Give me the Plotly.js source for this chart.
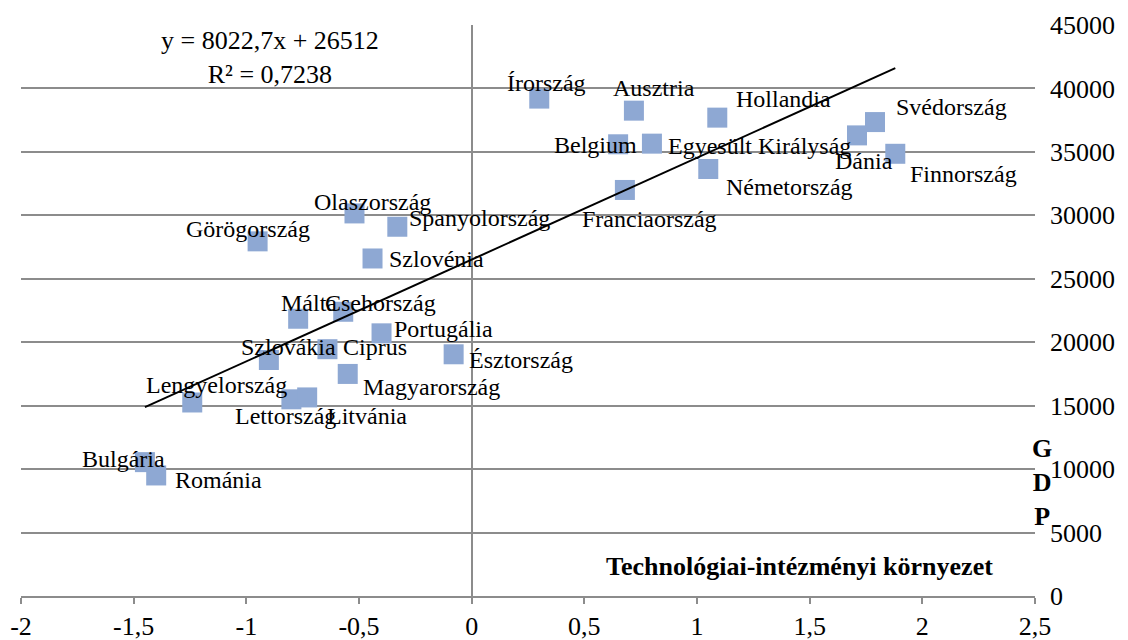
<!DOCTYPE html>
<html>
<head>
<meta charset="utf-8">
<script src="https://cdn.plot.ly/plotly-3.0.1.min.js"></script>
<style>
html,body{margin:0;padding:0;background:#fff;}
#chart{width:1128px;height:640px;}
</style>
</head>
<body>
<div id="chart"></div>
<script>
// ---- data ----
const countries = ["Írország","Ausztria","Hollandia","Svédország","Belgium","Egyesült Királyság","Dánia","Finnország","Németország","Franciaország","Olaszország","Spanyolország","Görögország","Szlovénia","Málta","Csehország","Portugália","Szlovákia","Ciprus","Észtország","Magyarország","Lengyelország","Lettország","Litvánia","Bulgária","Románia"];
const techEnv = [0.30,0.72,1.09,1.79,0.65,0.80,1.71,1.88,1.05,0.68,-0.52,-0.33,-0.95,-0.44,-0.77,-0.57,-0.40,-0.90,-0.64,-0.08,-0.55,-1.24,-0.80,-0.73,-1.45,-1.40];
const gdp = [39200,38250,37700,37350,35600,35650,36300,34850,33650,32000,30150,29100,27950,26600,21850,22400,20700,18600,19450,19050,17500,15250,15500,15650,10550,9500];
const trendSlope = 8022.7;
const trendIntercept = 26512;
const equationText = "y = 8022,7x + 26512<br>R² = 0,7238";
const xTickVals = [-2,-1.5,-1,-0.5,0,0.5,1,1.5,2,2.5];
const xTickLabels = ["-2","-1,5","-1","-0,5","0","0,5","1","1,5","2","2,5"];
const xTitle = "Technológiai-intézményi környezet";
const yTitleLetters = ["G","D","P"];

// ---- label placement (style only) ----
const labelPlacement = [
  ["center",7,-16],["center",20,-23],["left",18,-19],["left",20,-15],["right",20,1],
  ["left",15,2],["center",7,26],["left",14,20],["left",17,18],["center",25,29],
  ["center",18,-11],["left",11,-9],["center",-10,-12],["left",15,1],["center",11,-16],
  ["center",37,-9],["left",11,-4],["center",20,-13],["left",15,-2],["left",14,6],
  ["left",14,13],["center",24,-17],["center",-6,17],["left",19,19],["center",-21,-3],
  ["left",18,5]
];

const FONT = "Liberation Serif";
const GRID = "#8c8c8c";

const xMin = Math.min(...techEnv), xMax = Math.max(...techEnv);
const trendX = [xMin, xMax];
const trendY = trendX.map(v => trendSlope * v + trendIntercept);

const traces = [
  {
    type: "scatter", mode: "markers", x: techEnv, y: gdp, text: countries,
    marker: {symbol: "square", size: 20, color: "#8EA8D3", line: {width: 0}},
    hoverinfo: "text+x+y", showlegend: false
  },
  {
    type: "scatter", mode: "lines", x: trendX, y: trendY,
    line: {color: "#000", width: 2}, hoverinfo: "skip", showlegend: false
  }
];

const annotations = countries.map((c, i) => {
  const p = labelPlacement[i];
  return {
    x: techEnv[i], y: gdp[i], xref: "x", yref: "y", text: c, showarrow: false,
    xanchor: p[0], yanchor: "middle", xshift: p[1], yshift: -p[2],
    font: {family: FONT, size: 24, color: "#000"}, borderpad: 0
  };
});
annotations.push({
  xref: "paper", yref: "paper", x: 0.2457, y: 0.943, text: equationText,
  showarrow: false, xanchor: "center", yanchor: "middle", align: "center",
  font: {family: FONT, size: 26, color: "#000"}
});
annotations.push({
  xref: "paper", yref: "paper", x: 0.768, y: 0.0508, text: "<b>" + xTitle + "</b>",
  showarrow: false, xanchor: "center", yanchor: "middle",
  font: {family: FONT, size: 26, color: "#000"}
});
annotations.push({
  xref: "paper", yref: "paper", x: 1.0065, y: 0.198,
  text: yTitleLetters.map(l => "<b>" + l + "</b>").join("<br>"),
  showarrow: false, xanchor: "center", yanchor: "middle", align: "center",
  font: {family: FONT, size: 26, color: "#000"}
});

const layout = {
  width: 1128, height: 640,
  margin: {l: 21, r: 93, t: 25, b: 44},
  paper_bgcolor: "#fff", plot_bgcolor: "#fff",
  font: {family: FONT, size: 26, color: "#000"},
  showlegend: false,
  xaxis: {
    range: [-2, 2.5], tickvals: xTickVals, ticktext: xTickLabels,
    ticks: "outside", ticklen: 6, tickwidth: 2, tickcolor: GRID,
    showline: true, linecolor: GRID, linewidth: 2,
    zeroline: true, zerolinecolor: GRID, zerolinewidth: 2,
    showgrid: false, tickfont: {family: FONT, size: 26, color: "#000"}
  },
  yaxis: {
    side: "right", range: [0, 45000], dtick: 5000, tickformat: "d",
    showgrid: true, gridcolor: GRID, gridwidth: 2,
    zeroline: false, showline: false, ticks: "",
    ticklabelstandoff: 14,
    tickfont: {family: FONT, size: 26, color: "#000"}
  },
  annotations: annotations
};

Plotly.newPlot("chart", traces, layout, {displayModeBar: false, staticPlot: true});
</script>
</body>
</html>
